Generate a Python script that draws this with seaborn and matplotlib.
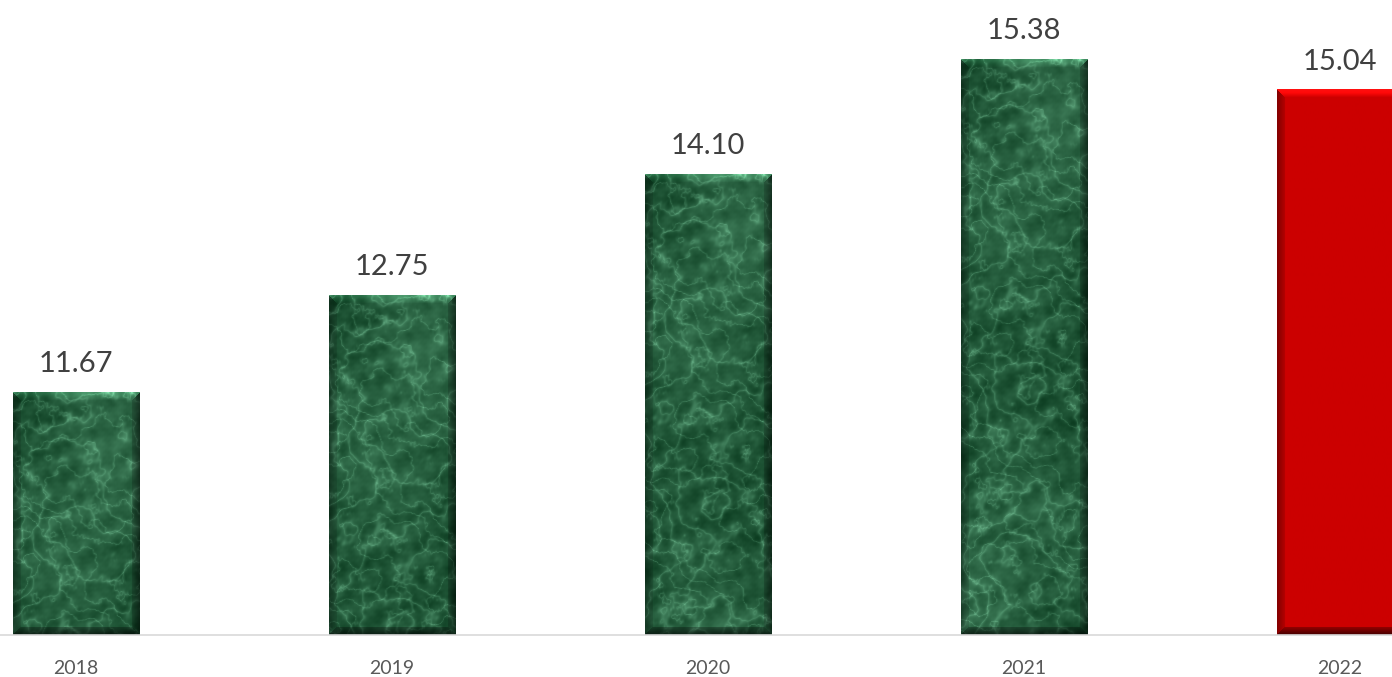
import numpy as np
import pandas as pd
import matplotlib
matplotlib.use("Agg")
import matplotlib.pyplot as plt
import seaborn as sns

years = ["2018", "2019", "2020", "2021", "2022"]
values = [11.67, 12.75, 14.10, 15.38, 15.04]
kinds = ["green", "green", "green", "green", "red"]

sns.set_theme(style="white")
plt.rcParams["font.family"] = ["Lato", "DejaVu Sans"]

df = pd.DataFrame({"year": years, "value": values, "kind": kinds})

fig = plt.figure(figsize=(13.92, 6.77), dpi=100)
ax = fig.add_axes([0, 42 / 677, 1, 635 / 677])

sns.barplot(data=df, x="year", y="value", hue="kind",
            palette={"green": "#1b5a33", "red": "#cc0000"},
            width=0.40, dodge=False, legend=False, ax=ax, linewidth=0,
            saturation=1)

ax.set_xlim(-0.2405, 4.165)
ax.set_ylim(8.97, 16.04)


def wave_field(xx, yy, n, f0, growth, seed_shift):
    acc = np.zeros_like(xx)
    amp = 1.0
    f = f0
    for k in range(n):
        ang = (k + seed_shift) * 2.39996
        ph = (k + seed_shift) * 1.618 * 3.7
        acc += amp * np.sin((xx * np.cos(ang) + yy * np.sin(ang)) * f + ph)
        amp *= 0.62
        f *= growth
    return acc


def marble(h, w, shift):
    yy, xx = np.mgrid[0:h, 0:w].astype(float)
    yy = yy + shift
    n1 = wave_field(xx, yy, 9, 0.03, 1.55, 0)
    n2 = wave_field(xx, yy, 9, 0.045, 1.6, 5)
    t1 = np.sin(xx * 0.045 + yy * 0.02 + 3.2 * n1)
    t2 = np.sin(yy * 0.05 - xx * 0.03 + 3.0 * n2)
    veins = 0.6 * np.exp(-np.abs(t1) * 3.5) + 0.5 * np.exp(-np.abs(t2) * 4.5)
    mott = wave_field(xx, yy, 7, 0.22, 1.5, 11)
    mott = (mott - mott.min()) / (mott.max() - mott.min() + 1e-9)
    cloud = wave_field(xx, yy, 5, 0.02, 1.7, 3)
    cloud = (cloud - cloud.min()) / (cloud.max() - cloud.min() + 1e-9)
    dark = np.array([0.05, 0.24, 0.13])
    light = np.array([0.45, 0.75, 0.58])
    mix = np.clip(0.55 * veins + 0.25 * mott + 0.3 * cloud - 0.1, 0, 1)[..., None]
    return dark * (1 - mix) + light * mix


def bevel(img, b=8):
    h, w, _ = img.shape
    yy, xx = np.mgrid[0:h, 0:w].astype(float)
    dt, db, dl, dr = yy, h - 1 - yy, xx, w - 1 - xx
    m = np.minimum(np.minimum(dt, db), np.minimum(dl, dr))
    out = img.copy()
    inb = m < b
    g = (1 - m / b)
    top = inb & (dt == m)
    bot = inb & (db == m) & ~top
    lef = inb & (dl == m) & ~top & ~bot
    rig = inb & ~top & ~bot & ~lef
    out[top] = np.clip(out[top] * (1.0 + 0.35 * g[top][:, None]) + 0.06 * g[top][:, None], 0, 1)
    out[bot] = out[bot] * (0.75 - 0.4 * g[bot][:, None])
    out[lef] = out[lef] * (0.9 - 0.25 * g[lef][:, None])
    out[rig] = out[rig] * (0.85 - 0.35 * g[rig][:, None])
    return out


ppd_x = fig.bbox.width / (ax.get_xlim()[1] - ax.get_xlim()[0])
ppd_y = ax.bbox.height / (ax.get_ylim()[1] - ax.get_ylim()[0])

for i, patch in enumerate(ax.patches[:len(values)]):
    x0, y0 = patch.get_x(), patch.get_y()
    w, h = patch.get_width(), patch.get_height()
    y_lo = max(y0, ax.get_ylim()[0])
    y_hi = y0 + h
    wp = int(round(w * ppd_x))
    hp = int(round((y_hi - y_lo) * ppd_y))
    if kinds[i] == "green":
        base = marble(hp, wp, 0)
    else:
        base = np.ones((hp, wp, 3)) * np.array([0.80, 0.0, 0.0])
    img = bevel(base)
    ax.imshow(img, extent=(x0, x0 + w, y_lo, y_hi), aspect="auto",
              interpolation="bilinear", zorder=3, origin="upper")
    ax.annotate(f"{values[i]:.2f}", xy=(x0 + w / 2, y_hi), xytext=(0, 20),
                textcoords="offset pixels", ha="center", va="baseline",
                fontsize=21, color="#404040", zorder=5)

ax.set_xlim(-0.2405, 4.165)
ax.set_ylim(8.97, 16.04)
ax.set_xlabel("")
ax.set_ylabel("")
ax.set_yticks([])
for s in ["top", "left", "right"]:
    ax.spines[s].set_visible(False)
ax.spines["bottom"].set_color("#d9d9d9")
ax.spines["bottom"].set_linewidth(1.2)
ax.spines["bottom"].set_zorder(4)
ax.tick_params(axis="x", length=0, pad=18, labelsize=14, labelcolor="#595959")

fig.savefig("out.png", dpi=100, facecolor="white")
